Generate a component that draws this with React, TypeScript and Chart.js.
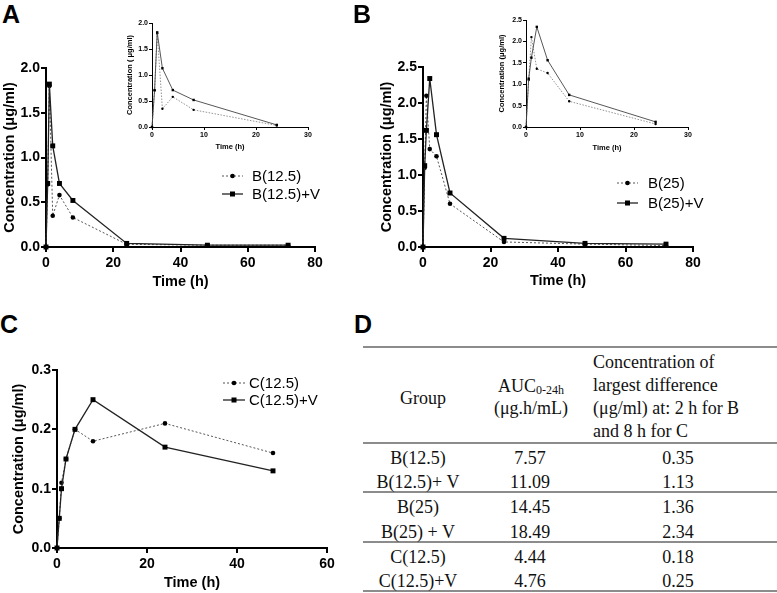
import React, { useEffect, useRef } from "react";
import { Chart, registerables } from "chart.js";

Chart.register(...registerables);

const SANS = 'Arial, "Liberation Sans", Helvetica, sans-serif';
const SERIF = '"Times New Roman", "Liberation Serif", Times, serif';

// ---------- data ----------
const timeB = [0, 0.5, 1, 2, 4, 8, 24, 48, 72];
const b125 = [0, 0.7, 1.8, 0.35, 0.58, 0.33, 0.03, 0.02, 0.02];
const b125V = [0, 0.71, 1.82, 1.13, 0.71, 0.52, 0.04, 0.02, 0.02];
const b25 = [0, 1.1, 2.1, 1.36, 1.26, 0.6, 0.07, 0.04, 0.02];
const b25V = [0, 1.13, 1.62, 2.34, 1.56, 0.75, 0.12, 0.05, 0.04];
const insetCount = 7; // insets show 0..24 h

const timeC = [0, 0.5, 1, 2, 4, 8, 24, 48];
const c125 = [0, 0.05, 0.11, 0.15, 0.2, 0.18, 0.21, 0.16];
const c125V = [0, 0.05, 0.1, 0.15, 0.2, 0.25, 0.17, 0.13];

const xTicksMainB = [0, 20, 40, 60, 80];
const xTicksMainC = [0, 20, 40, 60];
const xTicksInset = [0, 10, 20, 30];
const yTicksA = [0, 0.5, 1.0, 1.5, 2.0];
const yTicksB = [0, 0.5, 1.0, 1.5, 2.0, 2.5];
const yTicksC = [0, 0.1, 0.2, 0.3];

const tableGroups = ["B(12.5)", "B(12.5)+ V", "B(25)", "B(25) + V", "C(12.5)", "C(12.5)+V"];
const tableAUC = [7.57, 11.09, 14.45, 18.49, 4.44, 4.76];
const tableDiff = [0.35, 1.13, 1.36, 2.34, 0.18, 0.25];

// ---------- chart helpers ----------
type Box = { left: number; top: number; width: number; height: number };
type Series = { label: string; x: number[]; y: number[]; dotted: boolean };
type Spec = {
  canvas: Box;
  area: { l: number; t: number; r: number; b: number };
  xTicks: number[];
  yTicks: number[];
  series: Series[];
  small: boolean;
  yTitle: string;
  yTitleX: number;
  xTitleY: number;
  legend?: { x0: number; x1: number; textX: number; rows: number[] };
};

const legendPlugin = {
  id: "insideLegend",
  afterDraw(chart: any, _args: any, opts: any) {
    if (!opts || !opts.rows) return;
    const ctx = chart.ctx as CanvasRenderingContext2D;
    const ox = opts.ox;
    const oy = opts.oy;
    chart.data.datasets.forEach((ds: any, i: number) => {
      const y = opts.rows[i] - oy;
      ctx.save();
      ctx.strokeStyle = ds.borderColor;
      ctx.lineWidth = ds.borderWidth;
      ctx.setLineDash(ds.borderDash || []);
      ctx.beginPath();
      ctx.moveTo(opts.x0 - ox, y);
      ctx.lineTo(opts.x1 - ox, y);
      ctx.stroke();
      ctx.setLineDash([]);
      ctx.fillStyle = "#000";
      const mx = (opts.x0 + opts.x1) / 2 - ox;
      if (ds.pointStyle === "rect") {
        ctx.fillRect(mx - 2.5, y - 2.5, 5, 5);
      } else {
        ctx.beginPath();
        ctx.arc(mx, y, 2.3, 0, Math.PI * 2);
        ctx.fill();
      }
      ctx.font = `15px ${SANS}`;
      ctx.textBaseline = "middle";
      ctx.textAlign = "left";
      ctx.fillText(ds.label, opts.textX - ox, y + 1);
      ctx.restore();
    });
  },
};

function buildConfig(spec: Spec): any {
  const { canvas, area, small } = spec;
  const tickFont = small ? 7 : 14;
  const titleFont = small ? 7.5 : 14.5;
  const lh = titleFont * 1.2;
  const yAxisWidth = area.l - canvas.left;
  const xAxisHeight = canvas.top + canvas.height - area.b;
  const lineW = small ? 1 : 2;
  const tickLen = small ? 3 : 5;

  const datasets = spec.series.map((s) => ({
    label: s.label,
    data: s.x.map((x, i) => ({ x, y: s.y[i] })),
    borderColor: s.dotted ? (small ? "#777" : "#555") : small ? "#444" : "#222",
    borderWidth: s.dotted ? (small ? 0.8 : 1) : small ? 0.9 : 1.3,
    borderDash: s.dotted ? (small ? [1.5, 1.5] : [2, 2]) : [],
    pointStyle: s.dotted ? "circle" : "rect",
    pointRadius: s.dotted ? (small ? 1.2 : 2.3) : small ? 1.7 : 3.5,
    pointBackgroundColor: "#000",
    pointBorderWidth: 0,
    tension: 0,
    clip: false,
    order: s.dotted ? 1 : 0,
  }));

  const axisCommon = (ticks: number[], isY: boolean) => ({
    type: "linear",
    min: ticks[0],
    max: ticks[ticks.length - 1],
    afterBuildTicks: (scale: any) => {
      scale.ticks = ticks.map((v) => ({ value: v }));
    },
    grid: {
      display: true,
      drawOnChartArea: false,
      drawTicks: true,
      tickLength: tickLen,
      color: "#000",
      lineWidth: lineW,
    },
    border: { display: true, color: "#000", width: lineW },
    ticks: {
      color: "#000",
      font: { family: SANS, size: tickFont, weight: "bold" },
      padding: isY ? 1 : small ? 1 : 3,
      autoSkip: false,
      maxRotation: 0,
      callback: (v: any) => (isY ? Number(v).toFixed(1) : String(v)),
    },
  });

  return {
    type: "line",
    data: { datasets },
    plugins: [legendPlugin],
    options: {
      animation: false,
      responsive: false,
      maintainAspectRatio: false,
      events: [],
      layout: {
        padding: {
          top: area.t - canvas.top,
          right: canvas.left + canvas.width - area.r,
          left: 0,
          bottom: 0,
        },
      },
      scales: {
        x: {
          ...axisCommon(spec.xTicks, false),
          position: "bottom",
          afterFit: (s: any) => {
            s.height = xAxisHeight;
          },
          title: {
            display: true,
            text: "Time (h)",
            color: "#000",
            font: { family: SANS, size: titleFont, weight: "bold" },
            padding: { top: 0, bottom: canvas.top + canvas.height - spec.xTitleY - lh / 2 },
          },
        },
        y: {
          ...axisCommon(spec.yTicks, true),
          position: "left",
          afterFit: (s: any) => {
            s.width = yAxisWidth;
          },
          title: {
            display: true,
            text: spec.yTitle,
            color: "#000",
            font: { family: SANS, size: titleFont, weight: "bold" },
            padding: { top: spec.yTitleX - canvas.left - lh / 2, bottom: 0 },
          },
        },
      },
      plugins: {
        legend: { display: false },
        tooltip: { enabled: false },
        insideLegend: spec.legend
          ? { ...spec.legend, ox: canvas.left, oy: canvas.top }
          : {},
      },
    },
  };
}

function ChartPanel({ spec }: { spec: Spec }) {
  const ref = useRef<HTMLCanvasElement>(null);
  useEffect(() => {
    const c = ref.current;
    if (!c) return;
    const chart = new Chart(c, buildConfig(spec));
    return () => chart.destroy();
  }, [spec]);
  const { left, top, width, height } = spec.canvas;
  return (
    <canvas
      ref={ref}
      width={width}
      height={height}
      style={{ position: "absolute", left, top, width, height }}
    />
  );
}

// ---------- specs ----------
const MU = "\u03bc";
const yTitleMain = `Concentration (${MU}g/ml)`;

const specA: Spec = {
  canvas: { left: 0, top: 40, width: 335, height: 260 },
  area: { l: 46, t: 68, r: 315, b: 247 },
  xTicks: xTicksMainB,
  yTicks: yTicksA,
  series: [
    { label: "B(12.5)", x: timeB, y: b125, dotted: true },
    { label: "B(12.5)+V", x: timeB, y: b125V, dotted: false },
  ],
  small: false,
  yTitle: yTitleMain,
  yTitleX: 10,
  xTitleY: 282,
  legend: { x0: 222, x1: 243, textX: 252, rows: [176, 194] },
};

const specAInset: Spec = {
  canvas: { left: 120, top: 8, width: 200, height: 147 },
  area: { l: 152, t: 23, r: 308, b: 127 },
  xTicks: xTicksInset,
  yTicks: yTicksA,
  series: [
    { label: "B(12.5)", x: timeB.slice(0, insetCount), y: b125.slice(0, insetCount), dotted: true },
    { label: "B(12.5)+V", x: timeB.slice(0, insetCount), y: b125V.slice(0, insetCount), dotted: false },
  ],
  small: true,
  yTitle: `Concentration ( ${MU}g/ml)`,
  yTitleX: 130,
  xTitleY: 147,
};

const specB: Spec = {
  canvas: { left: 377, top: 40, width: 336, height: 260 },
  area: { l: 423, t: 67, r: 693, b: 247 },
  xTicks: xTicksMainB,
  yTicks: yTicksB,
  series: [
    { label: "B(25)", x: timeB, y: b25, dotted: true },
    { label: "B(25)+V", x: timeB, y: b25V, dotted: false },
  ],
  small: false,
  yTitle: yTitleMain,
  yTitleX: 387,
  xTitleY: 281,
  legend: { x0: 617, x1: 638, textX: 648, rows: [183, 203] },
};

const specBInset: Spec = {
  canvas: { left: 492, top: 6, width: 208, height: 149 },
  area: { l: 526, t: 20, r: 688, b: 127 },
  xTicks: xTicksInset,
  yTicks: yTicksB,
  series: [
    { label: "B(25)", x: timeB.slice(0, insetCount), y: b25.slice(0, insetCount), dotted: true },
    { label: "B(25)+V", x: timeB.slice(0, insetCount), y: b25V.slice(0, insetCount), dotted: false },
  ],
  small: true,
  yTitle: yTitleMain,
  yTitleX: 502,
  xTitleY: 148,
};

const specC: Spec = {
  canvas: { left: 9, top: 340, width: 338, height: 253 },
  area: { l: 57, t: 370, r: 327, b: 548 },
  xTicks: xTicksMainC,
  yTicks: yTicksC,
  series: [
    { label: "C(12.5)", x: timeC, y: c125, dotted: true },
    { label: "C(12.5)+V", x: timeC, y: c125V, dotted: false },
  ],
  small: false,
  yTitle: yTitleMain,
  yTitleX: 19,
  xTitleY: 583,
  legend: { x0: 223, x1: 245, textX: 249, rows: [383, 400] },
};

// ---------- layout ----------
const panelLetter = (t: string, left: number, top: number) => (
  <div
    key={t}
    style={{
      position: "absolute",
      left,
      top,
      fontFamily: SANS,
      fontWeight: "bold",
      fontSize: 25,
      lineHeight: "25px",
      color: "#000",
    }}
  >
    {t}
  </div>
);

function TableD() {
  const lineYs = [347, 443, 492, 542, 591];
  const rowYs = [458, 482, 507, 532, 557, 581];
  const cell = (text: string, cx: number, cy: number, key: string) => (
    <div
      key={key}
      style={{
        position: "absolute",
        left: cx - 60,
        width: 120,
        top: cy - 12,
        height: 24,
        lineHeight: "24px",
        textAlign: "center",
        whiteSpace: "nowrap",
      }}
    >
      {text}
    </div>
  );
  return (
    <div style={{ position: "absolute", left: 0, top: 0, fontFamily: SERIF, fontSize: 18, color: "#111" }}>
      {lineYs.map((y, i) => (
        <div
          key={"l" + i}
          style={{ position: "absolute", left: 363, width: 414, top: y - 0.75, height: 1.5, background: "#8c8c8c" }}
        />
      ))}
      {cell("Group", 423, 398, "hg")}
      <div
        style={{
          position: "absolute",
          left: 471,
          width: 120,
          top: 376,
          lineHeight: "21.5px",
          textAlign: "center",
          whiteSpace: "nowrap",
        }}
      >
        AUC<sub style={{ fontSize: 12, verticalAlign: "-2px", lineHeight: 0 }}>0-24h</sub>
        <br />
        {`(${MU}g.h/mL)`}
      </div>
      <div
        style={{
          position: "absolute",
          left: 593,
          top: 350.5,
          lineHeight: "23.3px",
          whiteSpace: "nowrap",
        }}
      >
        Concentration of
        <br />
        largest difference
        <br />
        {`(${MU}g/ml) at: 2 h for B`}
        <br />
        and 8 h for C
      </div>
      {tableGroups.map((g, i) => cell(g, 418, rowYs[i], "g" + i))}
      {tableAUC.map((v, i) => cell(v.toFixed(2), 530, rowYs[i], "a" + i))}
      {tableDiff.map((v, i) => cell(v.toFixed(2), 678, rowYs[i], "d" + i))}
    </div>
  );
}

export default function App() {
  return (
    <div
      style={{
        position: "absolute",
        left: 0,
        top: 0,
        width: 777,
        height: 593,
        background: "#fff",
        overflow: "hidden",
      }}
    >
      <ChartPanel spec={specA} />
      <ChartPanel spec={specB} />
      <ChartPanel spec={specC} />
      <ChartPanel spec={specAInset} />
      <ChartPanel spec={specBInset} />
      {panelLetter("A", 2, 2)}
      {panelLetter("B", 353, 2)}
      {panelLetter("C", 0, 312)}
      {panelLetter("D", 354, 312)}
      <TableD />
    </div>
  );
}
